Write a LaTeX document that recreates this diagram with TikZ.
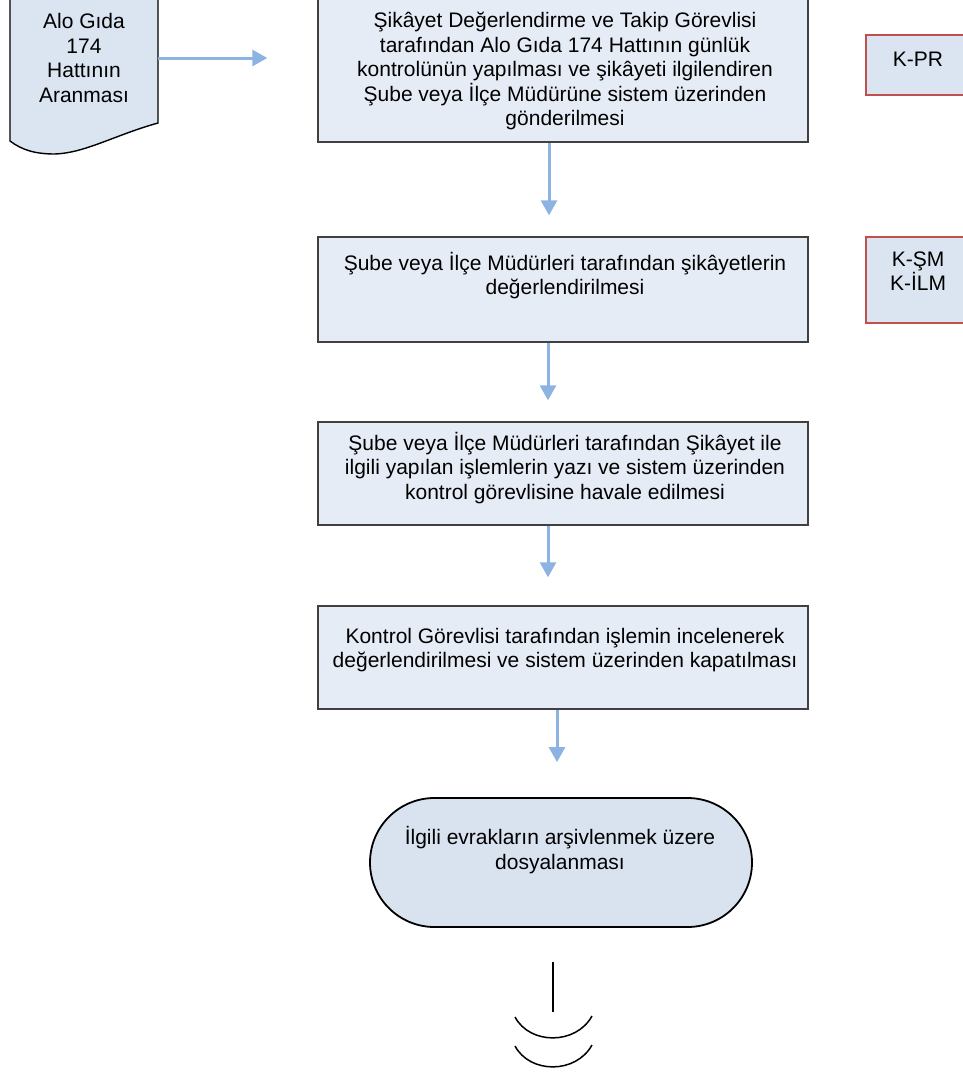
\documentclass[tikz,border=0pt]{standalone}
\usepackage{fontspec}
\setmainfont{Liberation Sans}
\usetikzlibrary{arrows.meta,shapes.misc}
\definecolor{boxfill}{HTML}{E6ECF6}
\definecolor{termfill}{HTML}{D9E3F0}
\definecolor{kfill}{HTML}{DBE5F1}
\definecolor{boxline}{HTML}{404040}
\definecolor{kline}{HTML}{C0504D}
\definecolor{arrblue}{HTML}{8DB3E2}
\begin{document}
\begin{tikzpicture}[x=1pt,y=-1pt,
  font=\fontsize{21}{24.5}\selectfont,
  procbox/.style={draw=boxline, fill=boxfill, line width=1.4pt, minimum width=490pt, inner sep=0pt},
  kbox/.style={draw=kline, fill=kfill, line width=2pt, minimum width=120pt, inner sep=0pt},
  txt/.style={align=center, inner sep=0pt},
  arr/.style={draw=arrblue, line width=3pt, -{Triangle[length=15pt,width=16pt]}},
  sym/.style={draw=black, line width=1.5pt}]
\useasboundingbox (0,0) rectangle (962,1076);

% document shape
\node[minimum width=148pt, minimum height=100pt, inner sep=0pt] (doc) at (84,58) {};
\path[draw=black, fill=kfill, line width=1.4pt]
  (10,-10) -- (10,141) .. controls (22,150) and (35,154) .. (55,154)
  .. controls (85,153) and (115,135) .. (158,123) -- (158,-10) -- cycle;
\node[txt] (tdoc) at (84,58) {Alo Gıda\\174\\Hattının\\Aranması};

% process boxes
\node[procbox, minimum height=152pt] (b1) at (563,66) {};
\node[txt] (t1) at (565,71) {Şikâyet Değerlendirme ve Takip Görevlisi\\tarafından Alo Gıda 174 Hattının günlük\\kontrolünün yapılması ve şikâyeti ilgilendiren\\Şube veya İlçe Müdürüne sistem üzerinden\\gönderilmesi};

\node[procbox, minimum height=105pt] (b2) at (563,289.5) {};
\node[txt] (t2) at (565,275.5) {Şube veya İlçe Müdürleri tarafından şikâyetlerin\\değerlendirilmesi};

\node[procbox, minimum height=103pt] (b3) at (563,473.5) {};
\node[txt] (t3) at (565,468) {Şube veya İlçe Müdürleri tarafından Şikâyet ile\\ilgili yapılan işlemlerin yazı ve sistem üzerinden\\kontrol görevlisine havale edilmesi};

\node[procbox, minimum height=103pt] (b4) at (563,657.5) {};
\node[txt] (t4) at (565,650) {Kontrol Görevlisi tarafından işlemin incelenerek\\değerlendirilmesi ve sistem üzerinden kapatılması};

% terminal
\node[rounded rectangle, draw=black, fill=termfill, line width=1.8pt, minimum width=382pt, minimum height=129pt, inner sep=0pt] (b5) at (561,862.5) {};
\node[txt] (t5) at (560,850) {İlgili evrakların arşivlenmek üzere\\dosyalanması};

% K boxes
\node[kbox, minimum height=60pt] (k1) at (926,65) {};
\node[txt] (tk1) at (918,59) {K-PR};
\node[kbox, minimum height=86pt] (k2) at (926,280) {};
\node[txt] (tk2) at (918,271) {K-ŞM\\K-İLM};

% connectors
\draw[arr, shorten >=50pt] (doc.east) -- (b1.west |- doc.east);
\draw[arr, shorten >=21pt] ([xshift=-14pt]b1.south) -- ([xshift=-14pt]b2.north);
\draw[arr, shorten >=21pt] ([xshift=-15pt]b2.south) -- ([xshift=-15pt]b3.north);
\draw[arr, shorten >=28pt] ([xshift=-15pt]b3.south) -- ([xshift=-15pt]b4.north);
\draw[arr, shorten >=35pt] ([xshift=-6pt]b4.south) -- ([xshift=-4pt]b5.north);

% off-page connector symbol
\coordinate (c1) at (553,962);
\coordinate (c2) at (553,1012);
\draw[sym] (c1) -- (c2);
\draw[sym] (515,1017) .. controls (530,1045) and (576,1045) .. (592,1016);
\draw[sym] (515,1046) .. controls (530,1074) and (576,1074) .. (592,1045);
\end{tikzpicture}
\end{document}
